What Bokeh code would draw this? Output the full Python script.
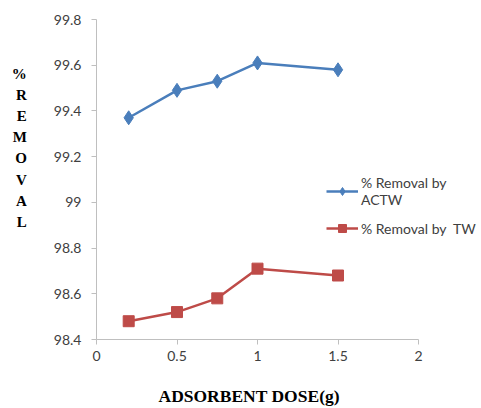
from bokeh.plotting import figure
from bokeh.models import Legend, LegendItem, FixedTicker, Title
from bokeh.embed import file_html
from bokeh.resources import INLINE

dose = [0.2, 0.5, 0.75, 1.0, 1.5]
removal_actw = [99.37, 99.49, 99.53, 99.61, 99.58]
removal_tw = [98.48, 98.52, 98.58, 98.71, 98.68]
x_ticks = [0, 0.5, 1, 1.5, 2]
y_ticks = [98.4, 98.6, 98.8, 99.0, 99.2, 99.4, 99.6, 99.8]
x_tick_labels = {0: "0", 0.5: "0.5", 1: "1", 1.5: "1.5", 2: "2"}
y_tick_labels = {98.4: "98.4", 98.6: "98.6", 98.8: "98.8", 99.0: "99", 99.2: "99.2",
                 99.4: "99.4", 99.6: "99.6", 99.8: "99.8"}

BLUE = "#4A7EBB"
RED = "#BE4B48"
AX = "#BFBFBF"
TXT = "#404040"
FONT = "Lato"

# frame spans from the y axis to the window's right edge; x axis drawn only 0..2
FRAME_W = 385
AXIS_W = 322
x_end = 2 * FRAME_W / AXIS_W

p = figure(output_backend="svg", toolbar_location=None,
           x_range=(0, x_end), y_range=(98.4, 99.8),
           frame_width=FRAME_W, frame_height=320,
           min_border_left=96, min_border_right=0,
           min_border_top=19, min_border_bottom=69)
p.outline_line_color = None
p.xgrid.visible = False
p.ygrid.visible = False
p.background_fill_color = "white"
p.border_fill_color = "white"

for ax in (p.xaxis[0], p.yaxis[0]):
    ax.axis_line_color = AX
    ax.major_tick_line_color = AX
    ax.minor_tick_line_color = None
    ax.major_tick_out = 5
    ax.major_tick_in = 0
    ax.major_label_text_font = FONT
    ax.major_label_text_font_size = "14px"
    ax.major_label_text_color = TXT

p.xaxis.bounds = (0, 2)
p.xaxis.ticker = FixedTicker(ticks=x_ticks)
p.xaxis.major_label_overrides = x_tick_labels
p.yaxis.ticker = FixedTicker(ticks=y_ticks)
p.yaxis.major_label_standoff = 10
p.xaxis.major_label_standoff = 6

xtitle = Title(text="ADSORBENT DOSE(g)", align="left", offset=62, standoff=40,
               text_font="Liberation Serif", text_font_style="bold",
               text_font_size="17.5px", text_color="black")
p.add_layout(xtitle, "below")

p.yaxis.axis_label = "%\nR\nE\nM\nO\nV\nA\nL\n\u00a0\n\u00a0\n\u00a0"
p.yaxis.axis_label_orientation = "horizontal"
p.yaxis.axis_label_text_font = "Liberation Serif"
p.yaxis.axis_label_text_font_style = "bold"
p.yaxis.axis_label_text_font_size = "15px"
p.yaxis.axis_label_text_color = "black"
p.yaxis.axis_label_text_line_height = 1.32
p.yaxis.axis_label_standoff = 24

r1 = p.line(dose, removal_actw, line_color=BLUE, line_width=2.5)
m1 = p.scatter(dose, removal_actw, marker="diamond", size=14,
               fill_color=BLUE, line_color=BLUE)
r2 = p.line(dose, removal_tw, line_color=RED, line_width=2.5)
m2 = p.scatter(dose, removal_tw, marker="square", size=11,
               fill_color=RED, line_color=RED)

legend = Legend(items=[
    LegendItem(label="% Removal by\nACTW", renderers=[r1, m1]),
    LegendItem(label="% Removal by\u00a0 TW", renderers=[r2, m2]),
], location=(230, 101))
legend.border_line_color = None
legend.background_fill_alpha = 0
legend.padding = 0
legend.margin = 0
legend.spacing = 10
legend.glyph_width = 32
legend.label_standoff = 3
legend.label_text_font = FONT
legend.label_text_font_size = "14px"
legend.label_text_color = TXT
p.add_layout(legend, "center")

open("out.html", "w").write(file_html(p, INLINE))
